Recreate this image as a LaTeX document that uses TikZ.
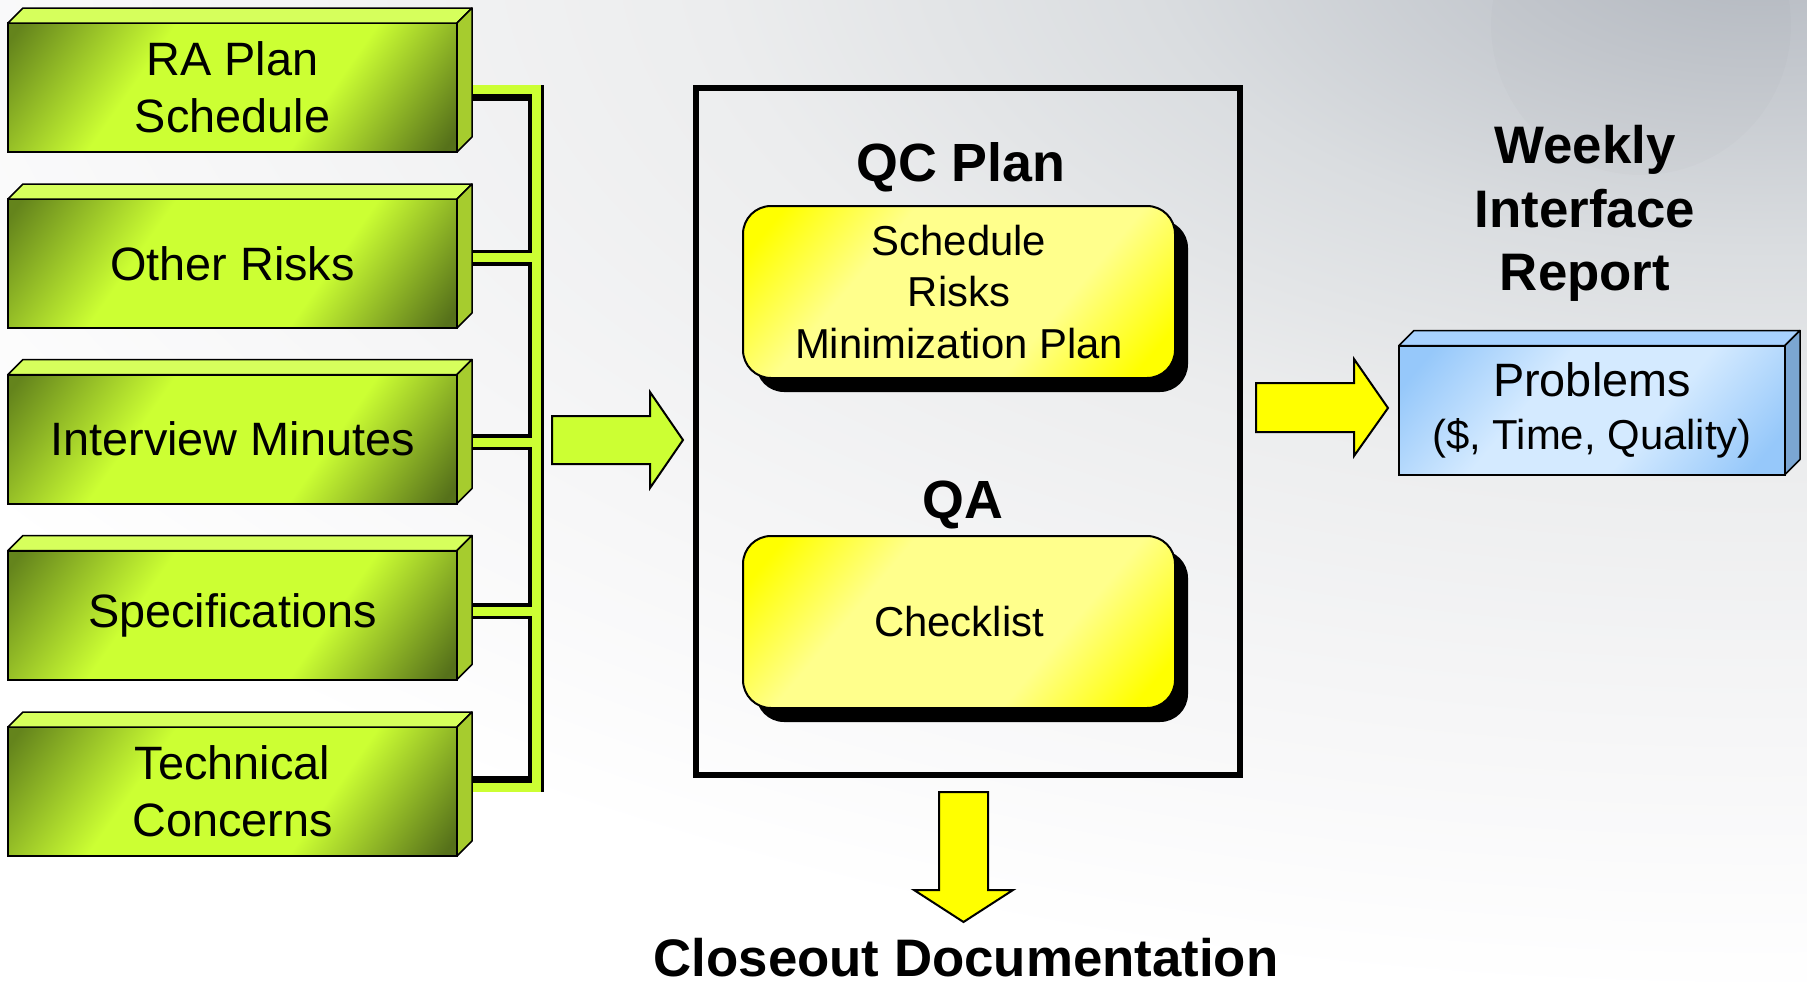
\documentclass[tikz,border=0pt]{standalone}
\usepackage{fontspec}
\setmainfont{Liberation Sans}
\usetikzlibrary{calc,shadows}

\definecolor{olivedark}{HTML}{64841C}
\definecolor{olivedarkb}{HTML}{56711A}
\definecolor{lime}{HTML}{CCFF33}
\definecolor{limetop}{HTML}{D6FF5C}
\definecolor{limeside}{HTML}{A6CC2E}
\definecolor{yelbright}{HTML}{FFFF00}
\definecolor{yelpale}{HTML}{FFFF8C}
\definecolor{bluedeep}{HTML}{96C8FA}
\definecolor{bluepale}{HTML}{D4EAFF}
\definecolor{bluetop}{HTML}{A8D2FF}
\definecolor{blueside}{HTML}{7BA6D2}
\definecolor{bgA}{HTML}{B4B9C1}
\definecolor{bgB}{HTML}{C4C8CE}
\definecolor{bgC}{HTML}{DADDE0}
\definecolor{bgD}{HTML}{ECEDEE}
\definecolor{bgE}{HTML}{F6F6F7}

% diagonal face shadings: the path spans 25bp--75bp of the axis
\pgfdeclareverticalshading{greenface}{100bp}{color(0bp)=(olivedarkb); color(17bp)=(olivedarkb);
  color(37bp)=(lime); color(63bp)=(lime); color(83bp)=(olivedark); color(100bp)=(olivedark)}
\pgfdeclareverticalshading{yellowface}{100bp}{color(0bp)=(yelbright); color(20bp)=(yelbright);
  color(36bp)=(yelpale); color(64bp)=(yelpale); color(80bp)=(yelbright); color(100bp)=(yelbright)}
\pgfdeclareverticalshading{blueface}{100bp}{color(0bp)=(bluedeep); color(20bp)=(bluedeep);
  color(40bp)=(bluepale); color(60bp)=(bluepale); color(80bp)=(bluedeep); color(100bp)=(bluedeep)}
% page background: grey glow from the top right corner (25bp = edge of the ellipse)
\pgfdeclareradialshading{pageglow}{\pgfpoint{0bp}{0bp}}{color(0bp)=(bgA); color(3bp)=(bgB);
  color(7bp)=(bgC); color(12bp)=(bgD); color(18bp)=(bgE); color(24bp)=(white); color(50bp)=(white)}

\tikzset{
  face/.style={draw=black, line width=1.5bp, line join=round},
  greenbox/.style={rectangle, draw=black, line width=2bp, outer sep=0pt, inner sep=0pt,
    minimum width=449bp, minimum height=129bp, align=center,
    font=\fontsize{47}{57}\selectfont,
    shading=greenface, shading angle=55},
  bluebox/.style={rectangle, draw=black, line width=2bp, outer sep=0pt, inner sep=0pt,
    minimum width=386bp, minimum height=129bp, align=center,
    font=\fontsize{47}{53}\selectfont,
    shading=blueface, shading angle=50},
  yelbox/.style={rectangle, rounded corners=28bp, draw=black, line width=2bp, outer sep=0pt, inner sep=0pt,
    minimum width=432bp, minimum height=172bp, align=center,
    font=\fontsize{42}{52}\selectfont,
    shading=yellowface, shading angle=50,
    drop shadow={shadow xshift=13bp, shadow yshift=-14bp, fill=black, opacity=1}},
  frame/.style={rectangle, draw=black, line width=6bp, inner sep=0pt, outer sep=0pt,
    minimum width=544bp, minimum height=687bp},
  heading/.style={inner sep=0pt, align=center, font=\fontsize{54}{64}\selectfont\bfseries},
  busedge/.style={draw=black, line width=16bp},
  busfill/.style={draw=lime, line width=9bp},
  blockarrow/.style={draw=black, line width=2bp, line join=miter},
}

% top and right faces of a box node: node name, top colour, side colour
\newcommand\cubefaces[3]{%
  \path[face, fill=#2] (#1.north west) -- ++(15,-15) -- ($(#1.north east)+(15,-15)$) -- (#1.north east) -- cycle;
  \path[face, fill=#3] (#1.north east) -- ++(15,-15) -- ($(#1.south east)+(15,-15)$) -- (#1.south east) -- cycle;
}

\begin{document}
\begin{tikzpicture}[x=1bp, y=-1bp]
\useasboundingbox (0,0) rectangle (1807,985);

% background
\begin{scope}
  \clip (0,0) rectangle (1807,985);
  \fill[white] (0,0) rectangle (1807,985);
  \shade[shading=pageglow] (1760,-60) ellipse (2200 and 1100);
  \fill[black, opacity=0.012] (1641,25) circle (150);
\end{scope}

% input box positions
\path (232.5,87.5)  coordinate (c1)
      (232.5,263.5) coordinate (c2)
      (232.5,439)   coordinate (c3)
      (232.5,615)   coordinate (c4)
      (232.5,791.5) coordinate (c5);

\coordinate (bus) at (536,0);
\path ($(c1)+(239.5,1.5)$) coordinate (s1)
      ($(c2)+(239.5,-6)$)  coordinate (s2)
      ($(c3)+(239.5,3)$)   coordinate (s3)
      ($(c4)+(239.5,-4)$)  coordinate (s4)
      ($(c5)+(239.5,-4)$)  coordinate (s5);

% bus: black edges first, green core on top
\draw[busedge] ($(s1)+(0,3.5)$) -- ($(s1 -| bus)+(8,3.5)$);
\foreach \i in {2,3,4} \draw[busedge] (s\i) -- ($(s\i -| bus)+(8,0)$);
\draw[busedge] ($(s5)+(0,-3.5)$) -- ($(s5 -| bus)+(8,-3.5)$);
\draw[busedge] (s1 -| bus) -- (s5 -| bus);
\foreach \i in {1,...,5} \draw[busfill] (s\i) -- ($(s\i -| bus)+(4.5,0)$);
\draw[busfill] ($(s1 -| bus)+(0,-4.5)$) -- ($(s5 -| bus)+(0,4.5)$);

\node[greenbox] (b1) at (c1) {RA Plan\\Schedule};
\node[greenbox] (b2) at (c2) {Other Risks};
\node[greenbox] (b3) at (c3) {Interview Minutes};
\node[greenbox] (b4) at (c4) {Specifications};
\node[greenbox] (b5) at (c5) {Technical\\Concerns};
\foreach \i in {1,...,5} {\cubefaces{b\i}{limetop}{limeside}}

% arrow from the inputs into the plan
\draw[blockarrow, fill=lime] (552,416) -- (650,416) -- (650,392) -- (683,440)
  -- (650,488) -- (650,464) -- (552,464) -- cycle;

% quality frame
\node[frame] (qc) at (968,431.5) {};
\node[heading, anchor=base] (qctitle) at (961,181) {QC Plan};
\node[yelbox] (plan) at (959,292) {Schedule\\Risks\\Minimization Plan};
\node[heading, anchor=base] (qatitle) at (963,518) {QA};
\node[yelbox] (check) at (959,622) {\raisebox{-3bp}{Checklist}};

% arrow to the report
\draw[blockarrow, fill=yelbright] (1256,383) -- (1354,383) -- (1354,359) -- (1388,408)
  -- (1354,456) -- (1354,432) -- (1256,432) -- cycle;

% weekly report
\node[heading, font=\fontsize{53}{64}\selectfont\bfseries] (weekly) at (1585,213.5) {Weekly\\Interface\\Report};
\node[bluebox] (problems) at (1592,410) {Problems\\{\fontsize{42}{53}\selectfont(\$, Time, Quality)}};
\cubefaces{problems}{bluetop}{blueside}

% arrow to closeout
\draw[blockarrow, fill=yelbright] (939,792) -- (988,792) -- (988,890) -- (1013,890)
  -- (963.5,922) -- (914,890) -- (939,890) -- cycle;
\node[heading, anchor=base, font=\fontsize{53}{64}\selectfont\bfseries] (closeout) at (966,976) {Closeout Documentation};
\end{tikzpicture}
\end{document}
